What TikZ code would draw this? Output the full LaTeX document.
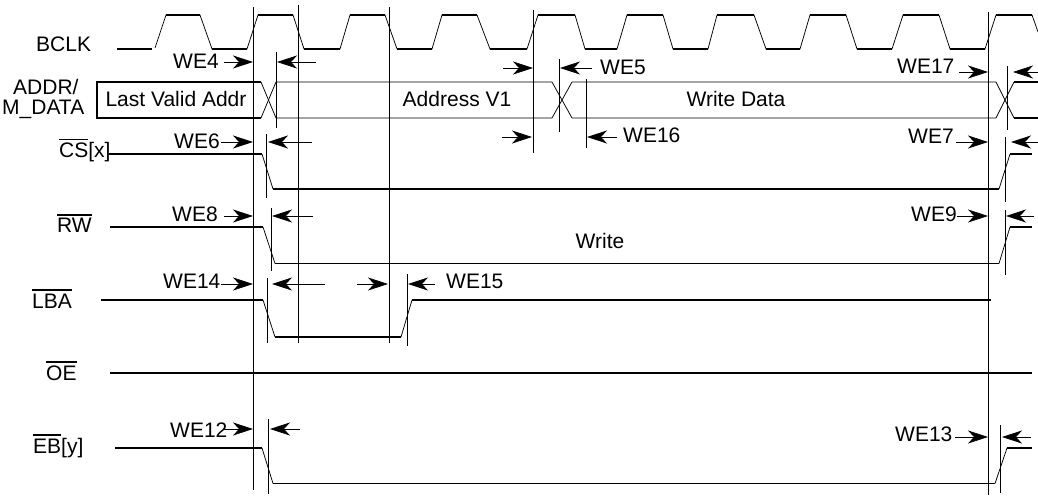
\documentclass[tikz,border=0pt]{standalone}
\usepackage{fontspec}
\setmainfont{Liberation Sans}
\usetikzlibrary{arrows.meta}
\newsavebox\ovbx
\newcommand\ovl[1]{\sbox\ovbx{#1}\rlap{\rule[17.5pt]{\wd\ovbx}{1.2pt}}\usebox\ovbx}
\tikzset{tiphead/.tip={Stealth[length=20pt,width=13pt,inset=6pt]}}
\begin{document}
\begin{tikzpicture}[x=1pt,y=-1pt,
  lbl/.style={inner sep=0pt, anchor=base west, font=\fontsize{21}{25}\selectfont},
  ctr/.style={inner sep=0pt, anchor=base, font=\fontsize{21}{25}\selectfont},
  thk/.style={line width=1.6pt},
  thn/.style={line width=0.75pt},
  tim/.style={line width=0.75pt, -tiphead}]
\useasboundingbox (0,0) rectangle (1038,497);

% ---------- signal names ----------
\node[lbl] (bclk)  at (36,52)  {BCLK};
\node[lbl] (addr)  at (13,95)  {ADDR/};
\node[lbl] (mdata) at (2,115)  {M\_DATA};
\node[lbl] (cs)    at (59,158) {\ovl{CS}[x]};
\node[lbl] (rw)    at (57,233) {\ovl{RW}};
\node[lbl] (lba)   at (32,308) {\ovl{LBA}};
\node[lbl] (oe)    at (46,380) {\ovl{OE}};
\node[lbl] (eb)    at (33,453) {\ovl{EB}[y]};

% ---------- reference lines ----------
\draw[thn] (253,7) coordinate (v1t) -- (253,490) coordinate (v1b);
\draw[thn] (298,5) coordinate (v2t) -- (298,343) coordinate (v2b);
\draw[thn] (389,7) coordinate (v3t) -- (389,343) coordinate (v3b);
\draw[thn] (533,10) coordinate (v4t) -- (533,153) coordinate (v4b);
\draw[thn] (988,12) coordinate (v5t) -- (988,495) coordinate (v5b);
\draw[thn] (276,52) -- (276,128);
\draw[thn] (559,59) -- (559,132);
\draw[thn] (586,79) -- (586,148);
\draw[thn] (1007,66) -- (1007,130);
\draw[thn] (266,134) -- (266,198);
\draw[thn] (1005,137) -- (1005,202);
\draw[thn] (271,208) -- (271,271);
\draw[thn] (1005,210) -- (1005,275);
\draw[thn] (267,278) -- (267,343);
\draw[thn] (407,274) -- (407,346);
\draw[thn] (268,419) -- (268,494);
\draw[thn] (1000,425) -- (1000,493);

% ---------- BCLK ----------
\draw[thk] (117,49) -- (152,49);
\draw[thn] (155,48) -- (166,15) -- (200,15) -- (212,49) -- (247,49) -- (258,15) -- (293,15) -- (304,49)
  -- (340,49) -- (350,15) -- (385,15) -- (397,49) -- (432,49) -- (442,15) -- (477,15) -- (490,49)
  -- (527,49) -- (538,15) -- (575,15) -- (585,49) -- (617,49) -- (627,15) -- (663,15) -- (673,49)
  -- (708,49) -- (717,15) -- (754,15) -- (766,49) -- (800,49) -- (810,15) -- (846,15) -- (857,49)
  -- (892,49) -- (903,15) -- (939,15) -- (950,49) -- (985,49) -- (996,15) -- (1032,15) -- (1038,32);
\foreach \a/\b in {166/200,258/293,350/385,442/477,538/575,627/663,717/754,810/846,903/939,996/1032}
  \draw[thk] (\a,15) -- (\b,15);
\foreach \a/\b in {212/247,304/340,397/432,490/527,585/617,673/708,766/800,857/892,950/985}
  \draw[thk] (\a,49) -- (\b,49);

% ---------- ADDR / M_DATA ----------
\draw[thk] (261,82) -- (97,82) -- (97,118) -- (261,118);
\draw[thn] (261,82) -- (276,118) -- (552,118) -- (572,82) -- (996,82) -- (1014,118);
\draw[thn] (261,118) -- (276,82) -- (552,82) -- (572,118) -- (996,118) -- (1014,82);
\draw[thk] (1014,82) -- (1038,82);
\draw[thk] (1014,118) -- (1038,118);
\node[ctr] (lva) at (176,107) {Last Valid Addr};
\node[ctr] (av1) at (457,107) {Address V1};
\node[ctr] (wd)  at (736,107) {Write Data};

% ---------- CS ----------
\draw[thk] (109,154) -- (262,154);
\draw[thn] (262,154) -- (273,189);
\draw[thk] (273,189) -- (999,189);
\draw[thn] (999,189) -- (1010,154);
\draw[thk] (1010,154) -- (1032,154);

% ---------- RW ----------
\draw[thk] (110,227) -- (263,227);
\draw[thn] (263,227) -- (275,263.5);
\draw[thk] (275,263.5) -- (999,263.5);
\draw[thn] (999,263.5) -- (1010,227);
\draw[thk] (1010,227) -- (1032,227);
\node[ctr] (wr) at (600,248) {Write};

% ---------- LBA ----------
\draw[thk] (101,300) -- (263,300);
\draw[thn] (263,300) -- (275,337);
\draw[thk] (275,337) -- (401,337);
\draw[thn] (401,337) -- (412,300);
\draw[thk] (412,300) -- (991,300);

% ---------- OE ----------
\draw[thk] (110,373) -- (1032,373);

% ---------- EB ----------
\draw[thk] (115,448) -- (262,448);
\draw[thn] (262,448) -- (273,483.5);
\draw[thk] (273,483.5) -- (995,483.5);
\draw[thn] (995,483.5) -- (1007,448);
\draw[thk] (1007,448) -- (1032,448);

% ---------- timing labels and arrows ----------
\node[lbl] (we4)  at (173,69)  {WE4};
\node[lbl] (we6)  at (174,149) {WE6};
\node[lbl] (we8)  at (172,222) {WE8};
\node[lbl] (we14) at (163,288) {WE14};
\node[lbl] (we15) at (446,288) {WE15};
\node[lbl] (we12) at (170,437) {WE12};
\node[lbl] (we5)  at (600,75)  {WE5};
\node[lbl] (we16) at (623,143) {WE16};
\node[lbl] (we17) at (897,74)  {WE17};
\node[lbl] (we7)  at (908,144) {WE7};
\node[lbl] (we9)  at (911,221) {WE9};
\node[lbl] (we13) at (895,441) {WE13};

\draw[tim] (224,62) -- (253,62);   \draw[tim] (316,62) -- (277,62);
\draw[tim] (221,142) -- (253,142); \draw[tim] (312,142) -- (268,142);
\draw[tim] (224,216) -- (253,216); \draw[tim] (313,216) -- (272,216);
\draw[tim] (221,284) -- (253,284); \draw[tim] (325,284) -- (272,284);
\draw[tim] (357,284) -- (388,284); \draw[tim] (435,284) -- (408,284);
\draw[tim] (224,429) -- (253,429); \draw[tim] (300,429) -- (270,429);
\draw[tim] (503,68) -- (533,68);   \draw[tim] (592,68) -- (560,68);
\draw[tim] (502,137) -- (532,137); \draw[tim] (617,137) -- (587,137);
\draw[tim] (959,72) -- (988,72);   \draw[tim] (1038,72) -- (1013,72);
\draw[tim] (956,142) -- (988,142); \draw[tim] (1038,142) -- (1011,142);
\draw[tim] (957,216) -- (988,216); \draw[tim] (1034,216) -- (1006,216);
\draw[tim] (955,437) -- (988,437); \draw[tim] (1031,437) -- (1002,437);
\end{tikzpicture}
\end{document}
